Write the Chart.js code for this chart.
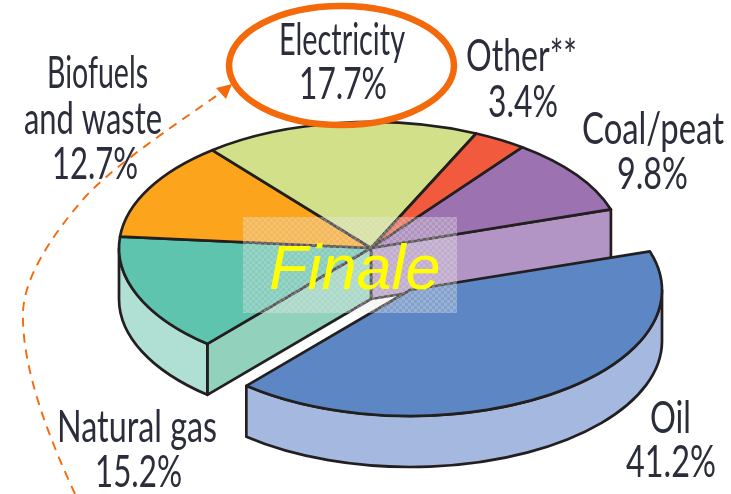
<!DOCTYPE html>
<html>
<head>
<meta charset="utf-8">
<style>html,body{margin:0;padding:0;background:#fff}canvas{display:block}</style>
<script src="https://cdn.jsdelivr.net/npm/chart.js@4/dist/chart.umd.min.js"></script>
</head>
<body>
<canvas id="c" width="731" height="494"></canvas>
<script>
const categories = ['Coal/peat', 'Oil', 'Natural gas', 'Biofuels and waste', 'Electricity', 'Other**'];
const shares = [9.8, 41.2, 15.2, 12.7, 17.7, 3.4];
const topColors = ['#9c72b0', '#5c87c4', '#5fc4ae', '#fba41c', '#d2e08a', '#f15a3c'];
const nameLines = [['Coal/peat'], ['Oil'], ['Natural gas'], ['Biofuels', 'and waste'], ['Electricity'], ['Other**']];

// label line boxes: [left, right, baseline] per printed line
const labelBoxes = [
  [[582,724,144],[617,688,189]],
  [[650,691,433],[626,716,477]],
  [[57,217,442],[95,182,487]],
  [[47,148,88],[24,162,134],[52,138,179]],
  [[279,405,55],[299,387,99]],
  [[466,577,71],[488,558,117]]
];
const INK = '#231f20', TEXT = '#2b2d3a', ORANGE = '#f46a0a';
const SQUASH = 0.5, DEPTH = 51, OIL = 1, LINE = 2.7;
const explode = {1: [39, 42]};
const walls = {
  0: {endCut: '#b295c4'},
  1: {outer: '#a5b9e0'},
  2: {outer: '#b0dfd3', startCut: '#92d2bd'}
};

function sectorPath(ctx, p, dx, dy) {
  const cx = p.x + dx, cy = p.y + dy, rx = p.outerRadius, ry = rx * SQUASH;
  ctx.beginPath();
  ctx.moveTo(cx, cy);
  ctx.ellipse(cx, cy, rx, ry, 0, p.startAngle, p.endAngle);
  ctx.closePath();
}
function shapeStyle(ctx, fill) {
  ctx.fillStyle = fill; ctx.fill();
  ctx.strokeStyle = INK; ctx.lineWidth = LINE; ctx.lineJoin = 'round'; ctx.stroke();
}
function cutFace(ctx, p, a, dx, dy, fill) {
  const cx = p.x + dx, cy = p.y + dy, r = p.outerRadius;
  const ex = cx + r * Math.cos(a), ey = cy + r * SQUASH * Math.sin(a);
  ctx.beginPath();
  ctx.moveTo(cx, cy); ctx.lineTo(ex, ey); ctx.lineTo(ex, ey + DEPTH); ctx.lineTo(cx, cy + DEPTH);
  ctx.closePath();
  shapeStyle(ctx, fill);
}
function outerWall(ctx, p, dx, dy, fill) {
  const lo = Math.max(p.startAngle, 0), hi = Math.min(p.endAngle, Math.PI);
  if (hi <= lo) return;
  const cx = p.x + dx, cy = p.y + dy, rx = p.outerRadius, ry = rx * SQUASH;
  ctx.beginPath();
  ctx.ellipse(cx, cy, rx, ry, 0, lo, hi);
  ctx.ellipse(cx, cy + DEPTH, rx, ry, 0, hi, lo, true);
  ctx.closePath();
  shapeStyle(ctx, fill);
}

const pie3d = {
  id: 'pie3d',
  beforeDatasetDraw(chart) {
    const ctx = chart.ctx;
    const arcs = chart.getDatasetMeta(0).data;
    const order = arcs.map((_, i) => i).filter(i => i !== OIL).concat(OIL);
    const prop = a => a.getProps(['x', 'y', 'startAngle', 'endAngle', 'outerRadius'], true);
    order.forEach(i => {
      const w = walls[i]; if (!w) return;
      const [dx, dy] = explode[i] || [0, 0], p = prop(arcs[i]);
      if (w.endCut) cutFace(ctx, p, p.endAngle, dx, dy, w.endCut);
      if (w.startCut) cutFace(ctx, p, p.startAngle, dx, dy, w.startCut);
      if (w.outer) outerWall(ctx, p, dx, dy, w.outer);
    });
    order.forEach(i => {
      const [dx, dy] = explode[i] || [0, 0], p = prop(arcs[i]);
      ctx.save();
      ctx.translate(p.x + dx, p.y + dy);
      ctx.scale(1, SQUASH);
      ctx.translate(-p.x, -p.y);
      arcs[i].draw(ctx);
      ctx.restore();
      sectorPath(ctx, p, dx, dy);
      ctx.strokeStyle = INK; ctx.lineWidth = LINE; ctx.lineJoin = 'round'; ctx.stroke();
    });
    return false;
  },
  afterDatasetsDraw(chart) {
    const ctx = chart.ctx;
    // "Finale" stamp
    const tile = document.createElement('canvas');
    tile.width = tile.height = 6;
    const t = tile.getContext('2d');
    t.fillStyle = 'rgba(232,232,232,0.44)'; t.fillRect(0, 0, 6, 6);
    t.clearRect(0, 0, 3, 3); t.clearRect(3, 3, 3, 3);
    t.fillStyle = 'rgba(232,232,232,0.28)';
    t.fillRect(0, 0, 3, 3); t.fillRect(3, 3, 3, 3);
    ctx.fillStyle = ctx.createPattern(tile, 'repeat');
    ctx.fillRect(243, 217, 214, 96);
    ctx.fillStyle = '#ffff00';
    ctx.font = 'italic 63px "Liberation Sans"';
    ctx.textAlign = 'left'; ctx.textBaseline = 'alphabetic';
    ctx.fillText('Finale', 269, 289);

    // labels
    ctx.fillStyle = TEXT;
    ctx.font = '44px Lato';
    categories.forEach((_, i) => {
      const lines = nameLines[i].concat(shares[i] + '%');
      lines.forEach((txt, k) => {
        const [l, r, base] = labelBoxes[i][k];
        const w = ctx.measureText(txt).width;
        ctx.save();
        ctx.translate(l, base);
        ctx.scale((r - l) / w, 1);
        ctx.fillText(txt, 0, 0);
        ctx.restore();
      });
    });

    // highlight ellipse
    ctx.strokeStyle = ORANGE; ctx.lineWidth = 6.5;
    ctx.beginPath();
    ctx.ellipse(341.5, 65.5, 112.5, 59.5, 0, 0, Math.PI * 2);
    ctx.stroke();

    // dashed arrow
    ctx.lineWidth = 1.9; ctx.setLineDash([9, 7]);
    ctx.beginPath();
    ctx.moveTo(75, 494);
    ctx.bezierCurveTo(50, 440, 22, 370, 23, 314);
    ctx.bezierCurveTo(23, 280, 50, 238, 80, 203);
    ctx.bezierCurveTo(105, 172, 170, 128, 222, 92);
    ctx.stroke();
    ctx.setLineDash([]);
    ctx.fillStyle = ORANGE;
    ctx.beginPath();
    ctx.moveTo(232, 84); ctx.lineTo(216, 88); ctx.lineTo(226, 99);
    ctx.closePath(); ctx.fill();
  }
};

new Chart(document.getElementById('c'), {
  type: 'pie',
  data: {
    labels: categories,
    datasets: [{
      data: shares,
      backgroundColor: topColors,
      borderWidth: 0,
      clip: false
    }]
  },
  options: {
    responsive: false,
    animation: false,
    radius: 252,
    rotation: 36.9,
    layout: {padding: {left: 11, top: 2}},
    plugins: {legend: {display: false}, tooltip: {enabled: false}}
  },
  plugins: [pie3d]
});
</script>
</body>
</html>
